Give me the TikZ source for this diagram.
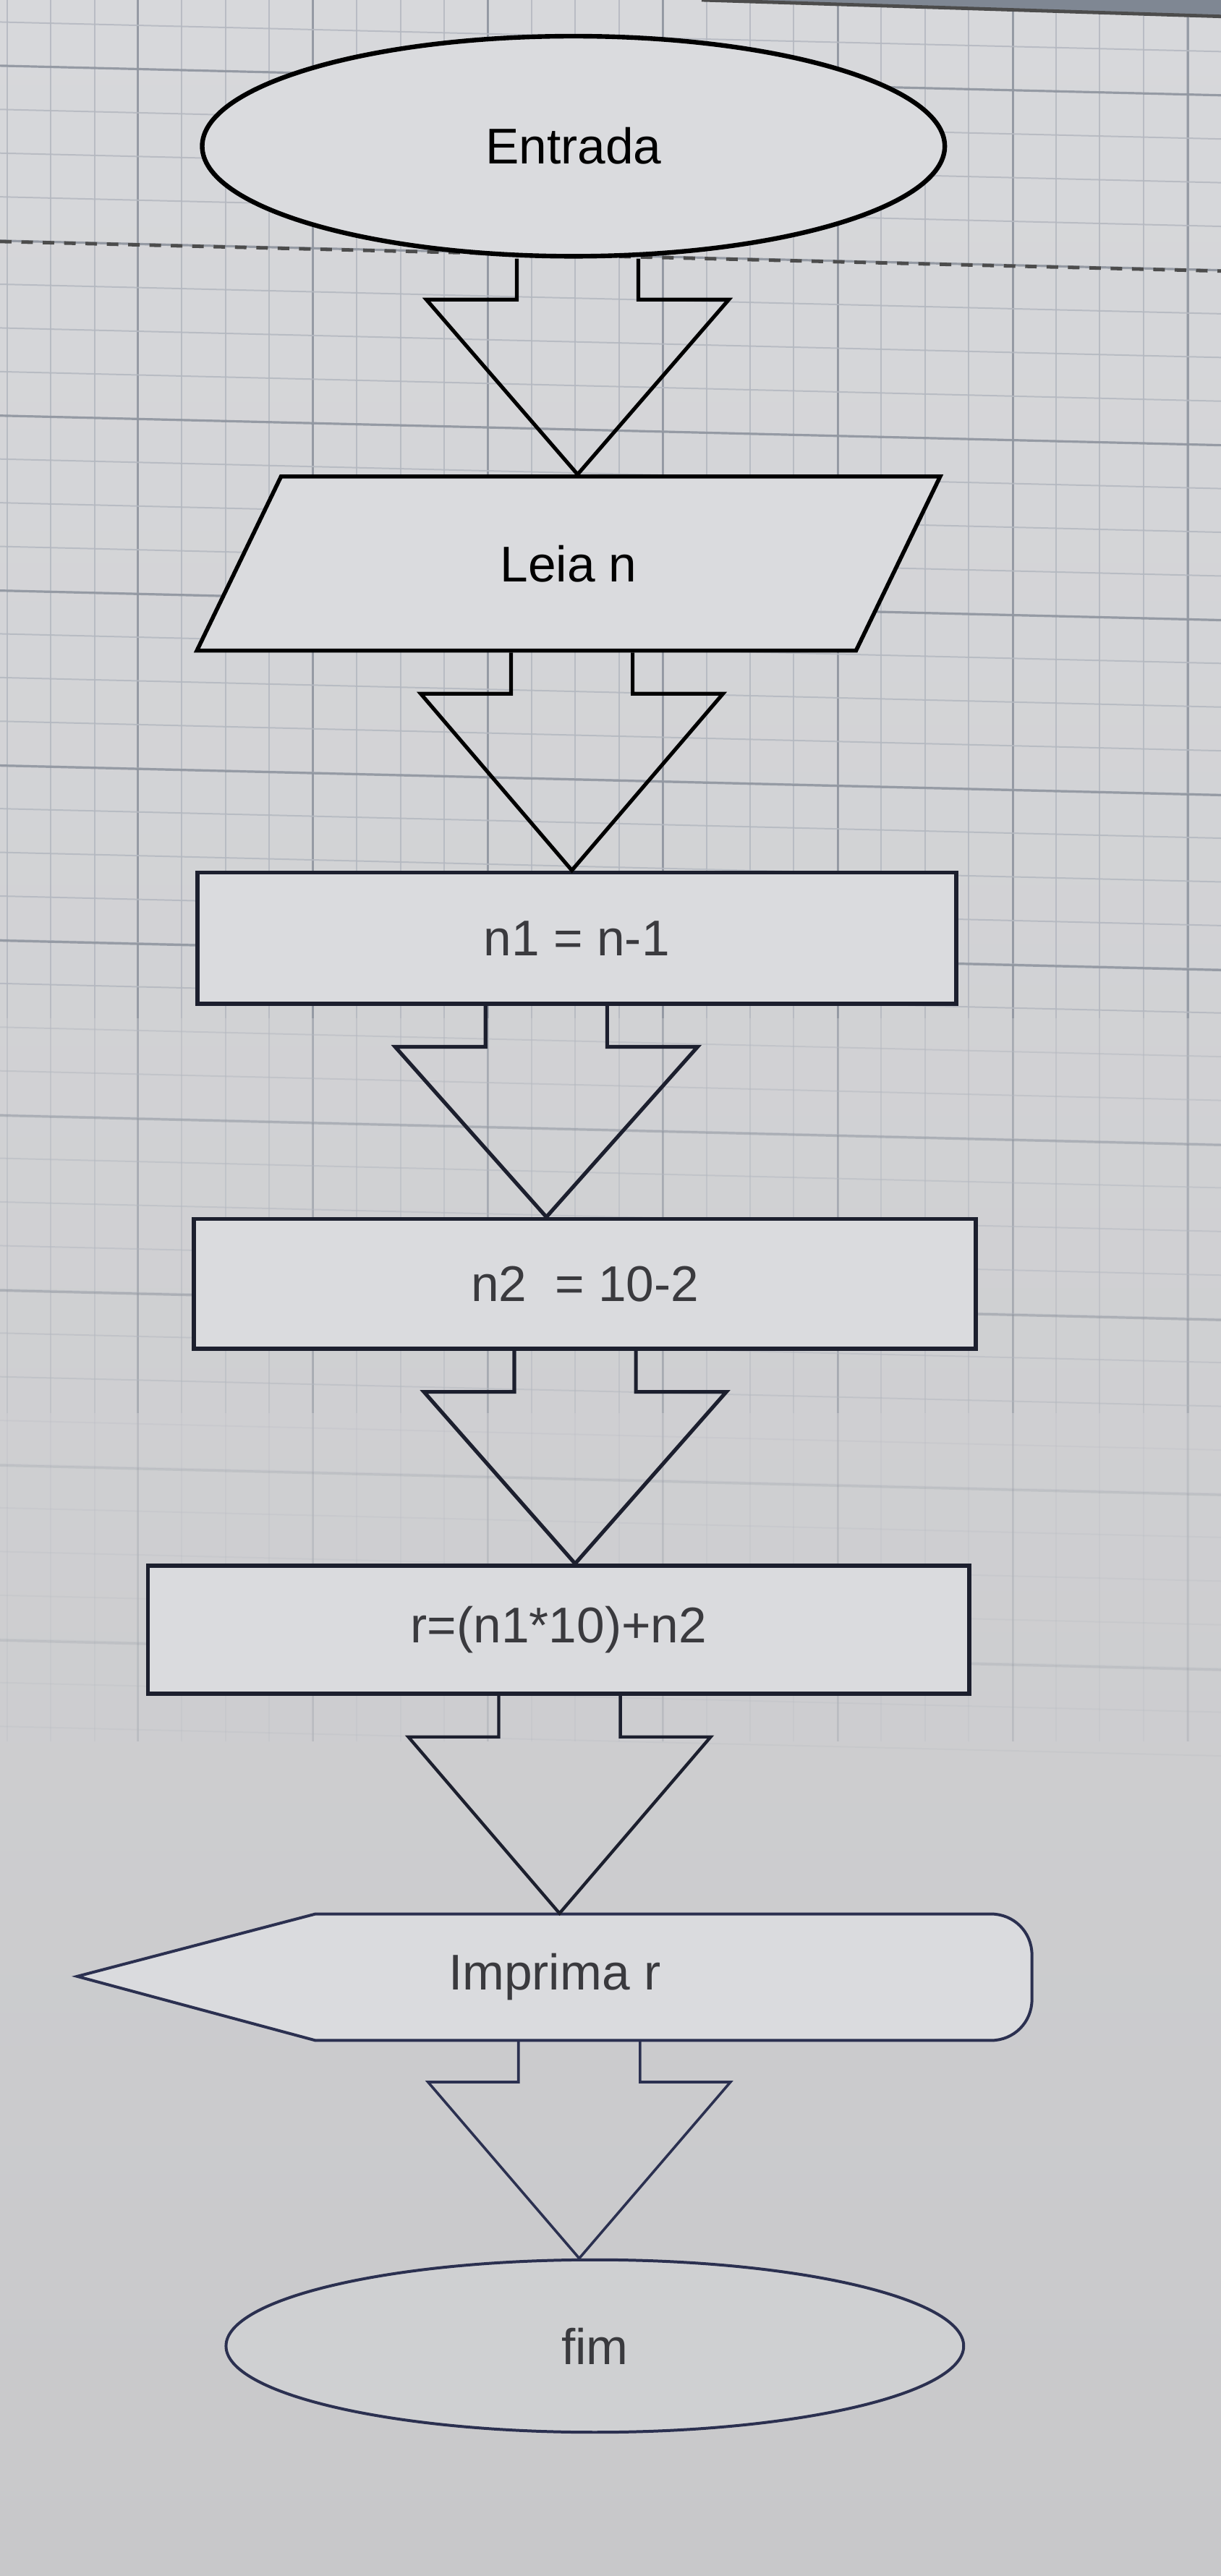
\documentclass[tikz,border=0pt]{standalone}
\usepackage{fontspec}
\setmainfont{Liberation Sans}
\usetikzlibrary{shapes.geometric,calc}
\definecolor{corFundo}{HTML}{D7D8DB}
\definecolor{corFundoB}{HTML}{C8C8CA}
\definecolor{corCaixa}{HTML}{DADBDE}
\definecolor{corLinha}{HTML}{1C1F2E}
\definecolor{corLinhaB}{HTML}{2B3050}
\definecolor{corTexto}{HTML}{3A3A3E}
\definecolor{corGrelha}{HTML}{B4B8C0}
\definecolor{corGrelhaM}{HTML}{8E949E}
\definecolor{corBorda}{HTML}{7F8793}
\tikzset{
  bloco/.style={draw=corLinha, fill=corCaixa, line width=1.4pt, text=corTexto,
    font=\fontsize{17.4}{20}\selectfont, inner sep=0pt},
  terminal/.style={bloco, ellipse},
  leitura/.style={bloco, trapezium, trapezium left angle=61.5, trapezium right angle=118.5,
    trapezium stretches=true},
  processo/.style={bloco, rectangle},
  seta/.style={draw=corLinha, line width=1.3pt, line join=miter},
  grelha/.style={draw=corGrelha, line width=0.5pt},
  grelhaM/.style={draw=corGrelhaM, line width=0.8pt}
}
% seta em bloco: #2 ponto de partida, #3 no de chegada
\newcommand{\seta}[3][]{%
  \draw[seta,#1] ($(#2)+(-37,0)$) -- ++(0,25) -- ++(-55,0) -- (#2 |- #3.north)
    -- ($(#2)+(92,25)$) -- ++(-55,0) -- ++(0,-25);}
\begin{document}
\begin{tikzpicture}[x=0.02cm, y=-0.02cm]
  \useasboundingbox (0,0) rectangle (743,1568);
  \fill[top color=corFundo, bottom color=corFundoB] (0,0) rectangle (743,1568);
  % grelha do ecra
  \foreach \ya/\yb/\op in {-30/620/0.85, 620/860/0.5, 860/1060/0.22} {
    \foreach \k in {0,...,28}
      \draw[grelha, opacity=\op] (4.3+26.6*\k, \ya) -- (4.3+26.6*\k, \yb);
    \foreach \k in {0,...,7}
      \draw[grelhaM, opacity=\op] (-22.5+106.5*\k, \ya) -- (-22.5+106.5*\k, \yb);
  }
  \foreach \k in {0,...,39} {
    \pgfmathsetmacro{\gy}{13.4+26.6*\k}
    \pgfmathsetmacro{\op}{(\gy<620)*0.85+and(\gy>=620,\gy<860)*0.5+(\gy>=860)*0.22}
    \draw[grelha, opacity=\op] (0, \gy) -- (743, \gy+18);
  }
  \foreach \k in {0,...,9} {
    \pgfmathsetmacro{\gy}{40+106.5*\k}
    \pgfmathsetmacro{\op}{(\gy<620)*0.85+and(\gy>=620,\gy<860)*0.5+(\gy>=860)*0.22}
    \draw[grelhaM, opacity=\op] (0, \gy) -- (743, \gy+18);
  }
  \fill[corBorda] (427,0) -- (743,0) -- (743,10) -- cycle;
  \draw[draw=black!70, line width=1.2pt] (427,0) -- (743,10);
  \draw[draw=black!70, line width=1.2pt, dash pattern=on 4pt off 3.4pt] (0,147) -- (743,165);

  \node[terminal, draw=black, text=black, line width=1.6pt,
    minimum width=9.04cm, minimum height=2.68cm] (entrada) at (349,89) {Entrada};
  \node[leitura, draw=black, text=black, minimum width=9.06cm,
    minimum height=2.12cm] (leia) at (346,343) {Leia n};
  \node[processo, minimum width=9.24cm, minimum height=1.6cm] (n1) at (351,571) {n1 = n-1};
  \node[processo, minimum width=9.52cm, minimum height=1.58cm] (n2) at (356,781.5) {n2\ \ = 10-2};
  \node[processo, minimum width=10cm, minimum height=1.56cm] (r) at (340,992) {r=(n1*10)+n2};
  \draw[draw=corLinhaB, fill=corCaixa, line width=1pt] (47,1203) -- (192,1165) -- (603,1165)
    .. controls (617,1165) and (628,1176) .. (628,1190) -- (628,1217)
    .. controls (628,1231) and (617,1242) .. (603,1242) -- (192,1242) -- cycle;
  \node[inner sep=0pt, minimum width=11.62cm, minimum height=1.54cm, text=corTexto,
    font=\fontsize{17.4}{20}\selectfont] (imprima) at (337.5,1203.5) {Imprima r};
  \node[terminal, draw=corLinhaB, line width=1pt, fill=corFundoB!60!corCaixa,
    minimum width=8.98cm, minimum height=2.1cm] (fim) at (362,1428) {fim};

  \coordinate (s1) at ($(entrada.south)+(2.5,0)$);
  \coordinate (s2) at ($(leia.south)+(2,0)$);
  \coordinate (s3) at ($(n1.south)+(-18.5,0)$);
  \coordinate (s4) at ($(n2.south)+(-6,0)$);
  \coordinate (s5) at ($(r.south)+(0.5,0)$);
  \coordinate (s6) at ($(imprima.south)+(15,0)$);
  \seta[draw=black]{s1}{leia}
  \seta[draw=black]{s2}{n1}
  \seta{s3}{n2}
  \seta{s4}{r}
  \seta[line width=1.1pt]{s5}{imprima}
  \seta[draw=corLinhaB, line width=0.9pt]{s6}{fim}
\end{tikzpicture}
\end{document}
